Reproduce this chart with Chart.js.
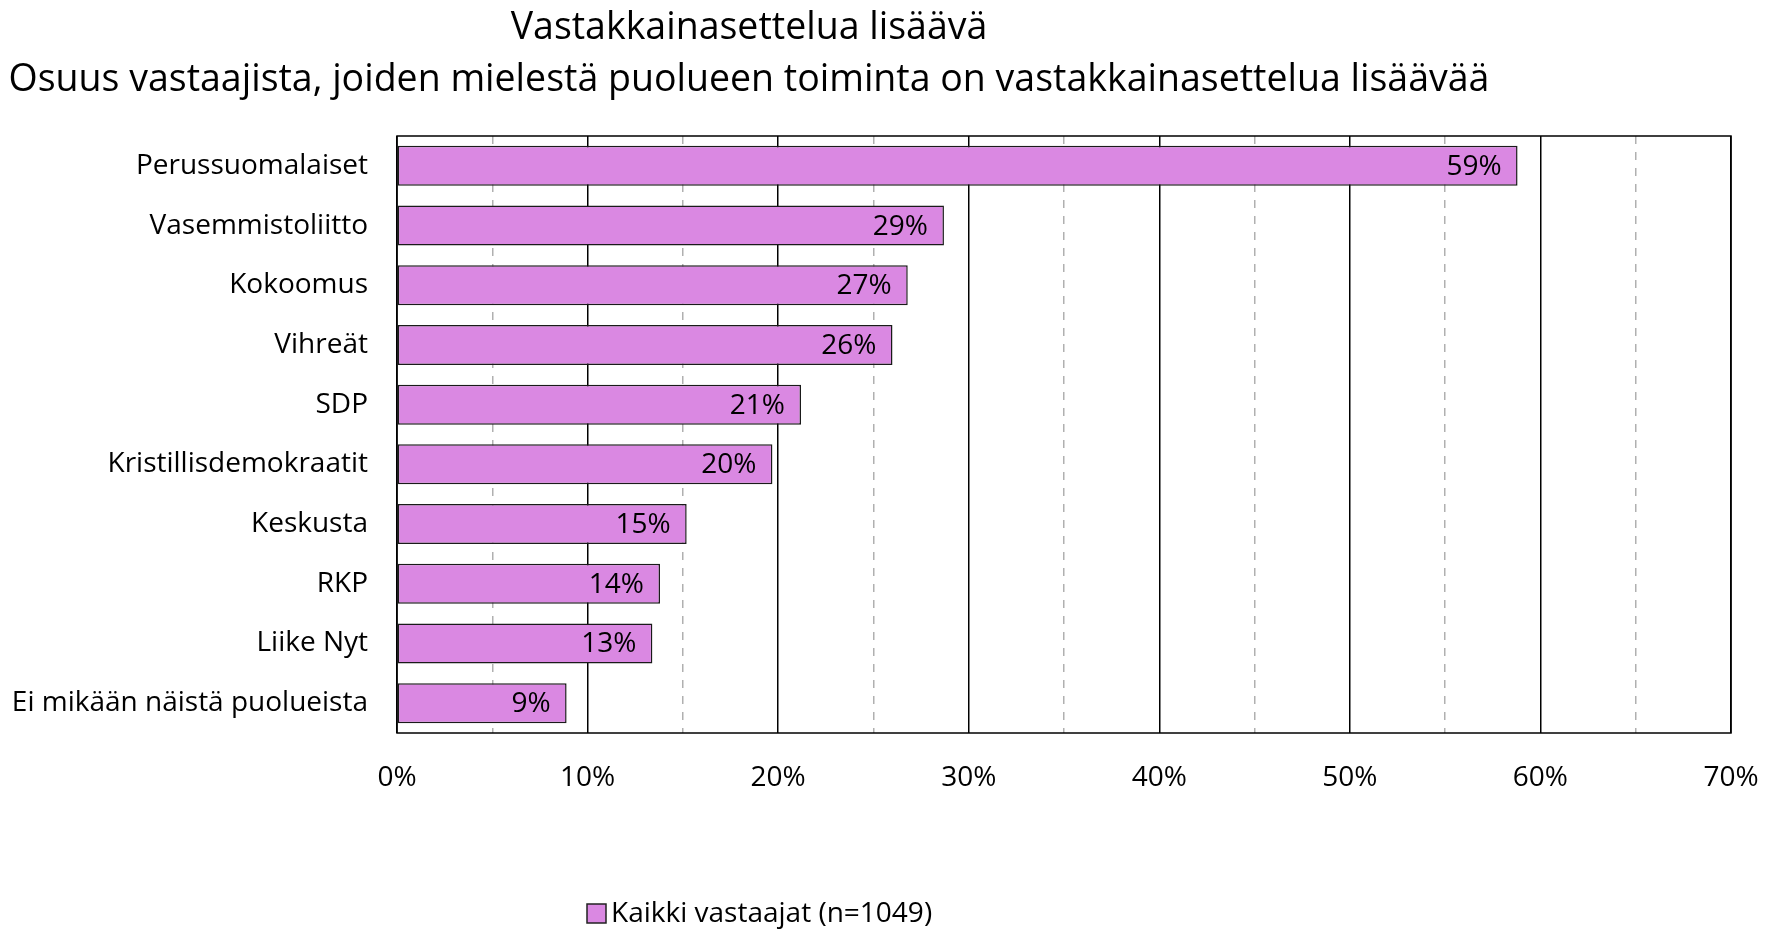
<!DOCTYPE html>
<html>
<head>
<meta charset="utf-8">
<script src="https://cdn.jsdelivr.net/npm/chart.js@4"></script>
<style>
html,body{margin:0;padding:0;background:#fff;}
#wrap{width:1775px;height:931px;position:relative;}
</style>
</head>
<body>
<div id="wrap"><canvas id="c" width="1775" height="931"></canvas></div>
<script>
const titleLines = ["Vastakkainasettelua lisäävä", "Osuus vastaajista, joiden mielestä puolueen toiminta on vastakkainasettelua lisäävää"];
const categories = ["Perussuomalaiset", "Vasemmistoliitto", "Kokoomus", "Vihreät", "SDP", "Kristillisdemokraatit", "Keskusta", "RKP", "Liike Nyt", "Ei mikään näistä puolueista"];
const seriesLabel = "Kaikki vastaajat (n=1049)";
const values = [58.8, 28.7, 26.8, 26.0, 21.2, 19.7, 15.2, 13.8, 13.4, 8.9];
const majorTicks = [0, 10, 20, 30, 40, 50, 60, 70];
const minorTicks = [5, 15, 25, 35, 45, 55, 65];

const FONT = "'Open Sans', sans-serif";
const LBL = 28;
const barColor = "#DA88E2";

const decorPlugin = {
  id: 'decor',
  afterDatasetsDraw(chart) {
    const ctx = chart.ctx;
    const meta = chart.getDatasetMeta(0);
    ctx.save();
    ctx.font = LBL + "px " + FONT;
    ctx.fillStyle = "#000";
    ctx.textAlign = "right";
    ctx.textBaseline = "middle";
    meta.data.forEach((bar, i) => {
      ctx.fillText(Math.round(values[i]) + "%", bar.x - 16, bar.y + 1);
    });
    ctx.restore();
  },
  afterDraw(chart) {
    const ctx = chart.ctx;
    const a = chart.chartArea;
    ctx.save();
    ctx.strokeStyle = "#000";
    ctx.lineWidth = 1.5;
    ctx.strokeRect(a.left, a.top, a.right - a.left, a.bottom - a.top);
    ctx.fillStyle = "#000";
    ctx.textAlign = "center";
    ctx.textBaseline = "middle";
    ctx.font = "37.5px " + FONT;
    ctx.fillText(titleLines[0], 749, 28);
    ctx.fillText(titleLines[1], 749, 80);
    ctx.font = LBL + "px " + FONT;
    ctx.textAlign = "left";
    ctx.fillStyle = barColor;
    ctx.fillRect(587, 904, 19, 19);
    ctx.strokeStyle = "#222";
    ctx.lineWidth = 1.5;
    ctx.strokeRect(587, 904, 19, 19);
    ctx.fillStyle = "#000";
    ctx.fillText(seriesLabel, 611, 914);
    ctx.restore();
  }
};

new Chart(document.getElementById('c'), {
  type: 'bar',
  data: {
    labels: categories,
    datasets: [{
      label: seriesLabel,
      data: values,
      backgroundColor: barColor,
      borderColor: "#1a1a1a",
      borderWidth: 1.5,
      borderSkipped: false,
      barPercentage: 0.67,
      categoryPercentage: 1.0
    }]
  },
  options: {
    indexAxis: 'y',
    responsive: false,
    animation: false,
    layout: { padding: { top: 136, right: 44, left: 0, bottom: 0 } },
    plugins: { legend: { display: false }, title: { display: false }, tooltip: { enabled: false } },
    scales: {
      x: {
        type: 'linear', min: 0, max: 70, position: 'bottom',
        afterBuildTicks: s => { s.ticks = majorTicks.map(v => ({ value: v })); },
        afterFit: s => { s.height = 931 - 733; s.paddingRight = 0; s.paddingLeft = 0; },
        grid: { color: "#000", lineWidth: 1.5, drawTicks: false },
        border: { display: false },
        ticks: { padding: 28, color: "#000", font: { family: FONT, size: LBL }, callback: v => v + "%" }
      },
      x2: {
        type: 'linear', min: 0, max: 70, position: 'top', axis: 'x',
        afterBuildTicks: s => { s.ticks = minorTicks.map(v => ({ value: v })); },
        afterFit: s => { s.height = 0; s.paddingRight = 0; s.paddingLeft = 0; },
        grid: { color: "#b0b0b0", lineWidth: 1.5, drawTicks: false },
        border: { display: false, dash: [8, 8] },
        ticks: { display: false }
      },
      y: {
        afterFit: s => { s.width = 397; s.paddingTop = 0; s.paddingBottom = 0; },
        grid: { display: false, drawTicks: false },
        border: { display: false },
        ticks: { padding: 29, color: "#000", font: { family: FONT, size: LBL } }
      }
    }
  },
  plugins: [decorPlugin]
});
</script>
</body>
</html>
